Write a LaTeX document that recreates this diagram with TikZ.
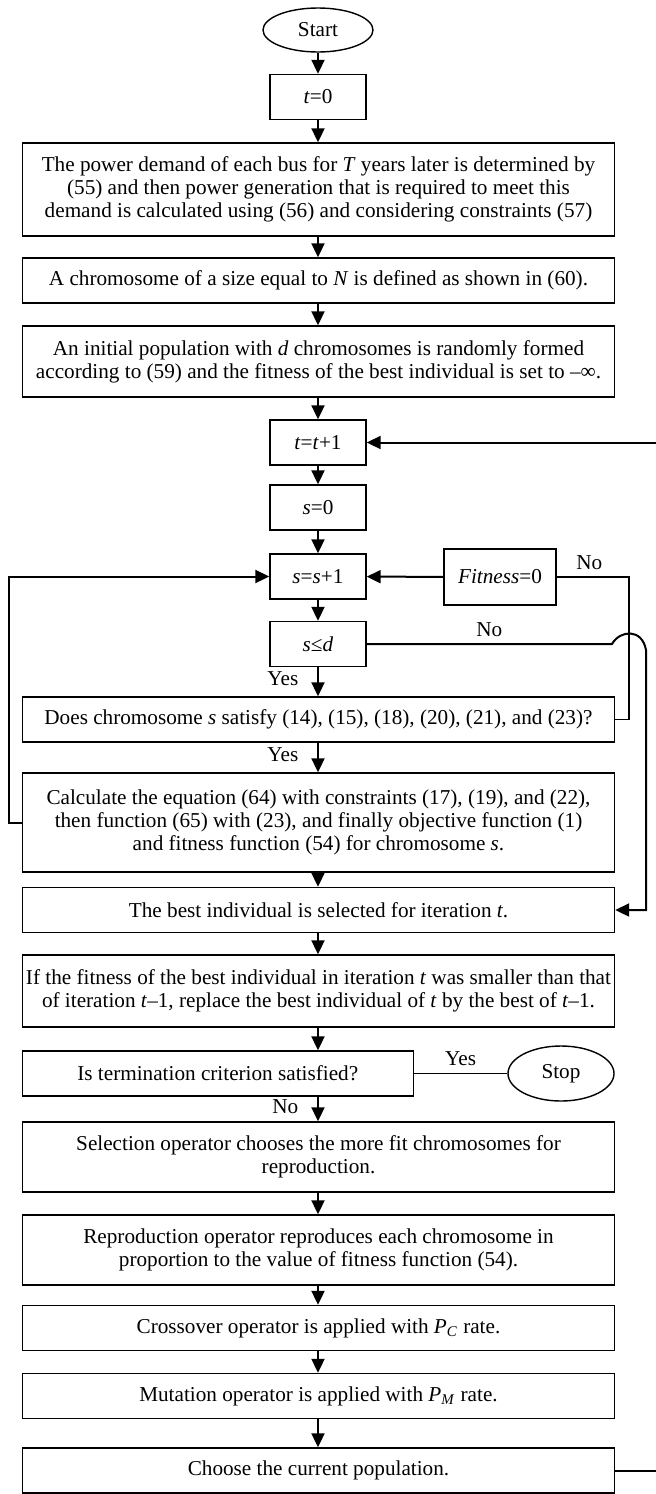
\documentclass[tikz,border=0pt]{standalone}
\usepackage{fontspec}
\setmainfont{Liberation Serif}
\usepackage{tikz}
\usetikzlibrary{arrows.meta,shapes.geometric}

\begin{document}
\begin{tikzpicture}[x=0.5pt,y=-0.5pt,>={Triangle[length=7pt,width=6.5pt]},
  font=\fontsize{10.6}{11.6}\selectfont,
  blk/.style={draw,line width=0.7pt,minimum width=48pt,minimum height=22.5pt,inner sep=1pt},
  wblk/.style={blk,minimum width=296pt,align=center},
  oval/.style={draw,ellipse,line width=0.7pt,inner sep=1pt},
  flow/.style={->,line width=1pt},
  link/.style={line width=0.7pt}]
\useasboundingbox (0,0) rectangle (655,1494);
\node[oval,minimum width=55pt,minimum height=22pt] (start) at (318,30) {Start};
\node[blk] (t0) at (318,97) {\textit{t}=0};
\node[wblk,minimum height=46.5pt] (dem) at (318.5,189.5) {The power demand of each bus for \textit{T} years later is determined by\\(55) and then power generation that is required to meet this\\demand is calculated using (56) and considering constraints (57)};
\node[wblk] (chr) at (318.5,280.5) {A chromosome of a size equal to \textit{N} is defined as shown in (60).};
\node[wblk,minimum height=35.5pt] (pop) at (318.5,361.5) {An initial population with \textit{d} chromosomes is randomly formed\\according to (59) and the fitness of the best individual is set to –∞.};
\node[blk] (tinc) at (318,442.5) {\textit{t}=\textit{t}+1};
\node[blk] (s0) at (318,507.5) {\textit{s}=0};
\node[blk] (sinc) at (318,576.5) {\textit{s}=\textit{s}+1};
\node[blk] (sle) at (318,644) {\textit{s}≤\textit{d}};
\node[blk,minimum width=56pt,minimum height=28pt] (fit) at (500,577) {\textit{Fitness}=0};
\node[wblk] (feas) at (318.5,719.5) {Does chromosome \textit{s} satisfy (14), (15), (18), (20), (21), and (23)?};
\node[wblk,minimum height=49.5pt] (calc) at (318.5,822.5) {Calculate the equation (64) with constraints (17), (19), and (22),\\then function (65) with (23), and finally objective function (1)\\and fitness function (54) for chromosome \textit{s}.};
\node[wblk] (best) at (318.5,910) {The best individual is selected for iteration \textit{t}.};
\node[wblk,minimum height=36pt] (cmp) at (318.5,991) {If the fitness of the best individual in iteration \textit{t} was smaller than that\\of iteration \textit{t}–1, replace the best individual of \textit{t} by the best of \textit{t}–1.};
\node[blk,minimum width=195.5pt] (term) at (217.75,1073.5) {Is termination criterion satisfied?};
\node[oval,minimum width=53pt,minimum height=27.5pt] (stop) at (561,1073.5) {Stop};
\node[wblk,minimum height=35pt] (sel) at (318.5,1157) {Selection operator chooses the more fit chromosomes for\\reproduction.};
\node[wblk,minimum height=35pt] (rep) at (318.5,1250) {Reproduction operator reproduces each chromosome in\\proportion to the value of fitness function (54).};
\node[wblk] (cro) at (318.5,1328) {Crossover operator is applied with \textit{P}\textsubscript{\textit{C}} rate.};
\node[wblk] (mut) at (318.5,1396) {Mutation operator is applied with \textit{P}\textsubscript{\textit{M}} rate.};
\node[wblk] (cur) at (318.5,1470.5) {Choose the current population.};
% main column
\draw[flow] (start) -- (t0);
\draw[flow] (t0) -- (t0 |- dem.north);
\draw[flow] (t0 |- dem.south) -- (t0 |- chr.north);
\draw[flow] (t0 |- chr.south) -- (t0 |- pop.north);
\draw[flow] (t0 |- pop.south) -- (tinc);
\draw[flow] (tinc) -- (s0);
\draw[flow] (s0) -- (sinc);
\draw[flow] (sinc) -- (sle);
\draw[flow] (sle) -- node[left=6pt,pos=0.4]{Yes} (sle |- feas.north);
\draw[flow] (sle |- feas.south) -- node[left=6pt,pos=0.4]{Yes} (sle |- calc.north);
\draw[flow] (sle |- calc.south) -- (sle |- best.north);
\draw[flow] (sle |- best.south) -- (sle |- cmp.north);
\draw[flow] (sle |- cmp.south) -- (sle |- term.north);
\draw[flow] (sle |- term.south) -- node[left=6pt,pos=0.4]{No} (sle |- sel.north);
\draw[flow] (sle |- sel.south) -- (sle |- rep.north);
\draw[flow] (sle |- rep.south) -- (sle |- cro.north);
\draw[flow] (sle |- cro.south) -- (sle |- mut.north);
\draw[flow] (sle |- mut.south) -- (sle |- cur.north);
% side branches
\coordinate (nofit) at (629,577);
\coordinate (hopA) at (612,644);
\coordinate (hopB) at (646,650);
\coordinate (lft) at (9,822.5);
\coordinate (rgt) at (659,1470.5);
\draw[flow] (fit) -- (sinc);
\draw[link] (feas.east) -| (nofit) -- node[above,pos=0.55]{No} (fit.east);
\draw[flow] (sle.east) -- node[above]{No} (hopA) .. controls (620,630) and (642,628) .. (hopB) |- (best.east);
\draw[flow] (calc.west) -- (lft) |- (sinc.west);
\draw[flow] (cur.east) -- (rgt) |- (tinc.east);
\draw[link] (term.east) -- node[above]{Yes} (stop.west);
\end{tikzpicture}
\end{document}
